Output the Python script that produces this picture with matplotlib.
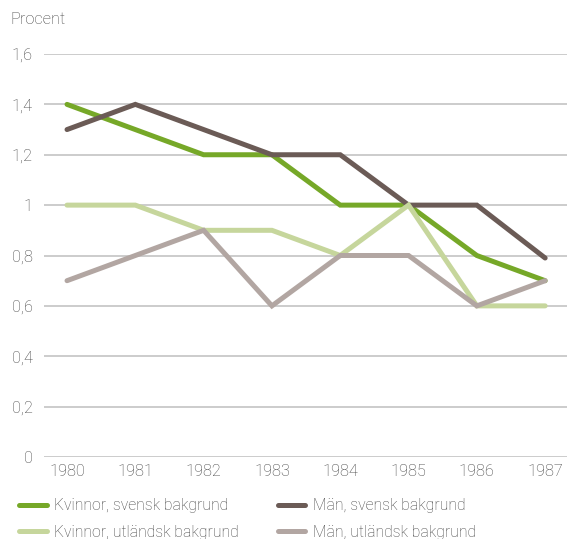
import matplotlib.pyplot as plt

years = [1980, 1981, 1982, 1983, 1984, 1985, 1986, 1987]
kvinnor_svensk = [1.4, 1.3, 1.2, 1.2, 1.0, 1.0, 0.8, 0.7]
man_svensk = [1.3, 1.4, 1.3, 1.2, 1.2, 1.0, 1.0, 0.79]
kvinnor_utl = [1.0, 1.0, 0.9, 0.9, 0.8, 1.0, 0.6, 0.6]
man_utl = [0.7, 0.8, 0.9, 0.6, 0.8, 0.8, 0.6, 0.7]
yticks = [0, 0.2, 0.4, 0.6, 0.8, 1.0, 1.2, 1.4, 1.6]
ytick_labels = ["0", "0,2", "0,4", "0,6", "0,8", "1", "1,2", "1,4", "1,6"]

plt.rcParams['font.family'] = ['Roboto', 'DejaVu Sans']
plt.rcParams['font.weight'] = 'light'
text_col = '#444444'
fs = 11.8

fig = plt.figure(figsize=(5.67, 5.39), dpi=100)
ax = fig.add_axes([44 / 567, 82 / 539, 523 / 567, 403 / 539])

lw = 3.6
l1, = ax.plot(years, kvinnor_svensk, color='#76a828', lw=lw, label='Kvinnor, svensk bakgrund', clip_on=False)
l2, = ax.plot(years, man_svensk, color='#6b5b56', lw=lw, label='Män, svensk bakgrund', clip_on=False)
l3, = ax.plot(years, kvinnor_utl, color='#c6d69c', lw=lw, label='Kvinnor, utländsk bakgrund', clip_on=False)
l4, = ax.plot(years, man_utl, color='#b2a6a2', lw=lw, label='Män, utländsk bakgrund', clip_on=False)
for l in (l1, l2, l3, l4):
    l.set_solid_capstyle('round')
    l.set_solid_joinstyle('miter')

ax.set_xlim(1979.663, 1987.32)
ax.set_ylim(0, 1.6)
ax.set_yticks(yticks)
ax.set_yticklabels(ytick_labels)
ax.set_xticks(years)
ax.grid(axis='y', color='#c4c4c4', lw=1.2)
ax.set_axisbelow(True)
for s in ax.spines.values():
    s.set_visible(False)
ax.tick_params(length=0, labelsize=fs, colors=text_col)
ax.tick_params(axis='y', pad=8)
ax.tick_params(axis='x', pad=5)

fig.text(10 / 567, 1 - 19 / 539, 'Procent', fontsize=fs, color=text_col, va='center')

fig.legend(handles=[l1, l3, l2, l4], ncol=2, loc='upper left',
           bbox_to_anchor=(5 / 567, 1 - 484 / 539), frameon=False,
           fontsize=11.3, handlelength=1.75, handletextpad=0.5,
           columnspacing=2.45, labelspacing=0.75, labelcolor=text_col)

fig.savefig('out.png', dpi=100)
